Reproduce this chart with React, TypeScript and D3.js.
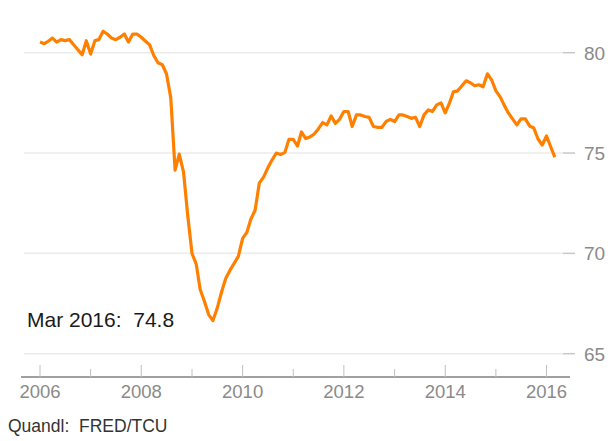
import React from "react";
import * as d3 from "d3";

const startYear = 2006;
const values: number[] = [
  // 2006
  80.53, 80.45, 80.57, 80.73, 80.53, 80.65, 80.6, 80.65, 80.4, 80.15, 79.9, 80.6,
  // 2007
  79.93, 80.6, 80.65, 81.07, 80.93, 80.73, 80.65, 80.77, 80.93, 80.53, 80.93, 80.93,
  // 2008
  80.77, 80.57, 80.4, 79.85, 79.5, 79.4, 78.95, 77.75, 74.15, 74.95, 74.05, 71.9,
  // 2009
  70.0, 69.45, 68.2, 67.6, 66.95, 66.65, 67.25, 68.05, 68.75, 69.15, 69.5, 69.85,
  // 2010
  70.75, 71.05, 71.7, 72.15, 73.5, 73.8, 74.25, 74.65, 75.0, 74.93, 75.02, 75.68,
  // 2011
  75.68, 75.35, 76.05, 75.72, 75.8, 75.95, 76.2, 76.52, 76.4, 76.85, 76.48, 76.68,
  // 2012
  77.07, 77.07, 76.32, 76.9, 76.9, 76.82, 76.78, 76.32, 76.28, 76.28, 76.57, 76.68,
  // 2013
  76.57, 76.9, 76.9, 76.82, 76.73, 76.78, 76.32, 76.9, 77.15, 77.07, 77.4, 77.5,
  // 2014
  77.0, 77.5, 78.05, 78.1, 78.35, 78.6, 78.5, 78.35, 78.4, 78.3, 78.95, 78.65,
  // 2015
  78.1, 77.8, 77.4, 77.0, 76.7, 76.4, 76.7, 76.7, 76.35, 76.25, 75.7, 75.4,
  // 2016
  75.85, 75.3, 74.8,
];
const yTicks = [65, 70, 75, 80];
const xTickYears = [2006, 2007, 2008, 2009, 2010, 2011, 2012, 2013, 2014, 2015, 2016];
const xLabelYears = [2006, 2008, 2010, 2012, 2014, 2016];
const lastLabel = "Mar 2016:  74.8";
const sourceLabel = "Quandl:  FRED/TCU";

const FONT = "'Liberation Sans', Arial, sans-serif";

export default function App() {
  const W = 608;
  const H = 441;
  const data = values.map((v, i) => ({ date: new Date(startYear, i, 1), v }));
  const x = d3
    .scaleTime()
    .domain([new Date(2006, 0, 1), new Date(2016, 0, 1)])
    .range([40, 546.5]);
  const y = d3.scaleLinear().domain([65, 80]).range([353.7, 52.7]);
  const line = d3
    .line<{ date: Date; v: number }>()
    .x((d) => x(d.date))
    .y((d) => y(d.v));

  const axisY = 377;
  return (
    <svg
      width={W}
      height={H}
      style={{ position: "absolute", left: 0, top: 0, background: "#fff" }}
    >
      {yTicks.map((t) => (
        <g key={t}>
          <line x1={24} x2={563} y1={y(t)} y2={y(t)} stroke="#ebebeb" strokeWidth={1.5} />
          <line x1={563} x2={575} y1={y(t)} y2={y(t)} stroke="#c8c8c8" strokeWidth={1.5} />
          <text
            x={584}
            y={y(t) + 7}
            fontFamily={FONT}
            fontSize={19}
            fill="#8a8a8a"
          >
            {t}
          </text>
        </g>
      ))}
      <line x1={21} x2={570} y1={axisY} y2={axisY} stroke="#808080" strokeWidth={1.5} />
      {xTickYears.map((yr) => {
        const xx = x(new Date(yr, 0, 1));
        const len = yr % 2 === 0 ? 12 : 8;
        return (
          <line
            key={yr}
            x1={xx}
            x2={xx}
            y1={axisY}
            y2={axisY - len}
            stroke="#c0c0c0"
            strokeWidth={1}
          />
        );
      })}
      {xLabelYears.map((yr) => (
        <text
          key={yr}
          x={x(new Date(yr, 0, 1))}
          y={398}
          textAnchor="middle"
          fontFamily={FONT}
          fontSize={18.5}
          fill="#8a8a8a"
        >
          {yr}
        </text>
      ))}
      <path
        d={line(data) || ""}
        fill="none"
        stroke="#ff8000"
        strokeWidth={3.2}
        strokeLinejoin="round"
      />
      <text
        x={27}
        y={327}
        fontFamily={FONT}
        fontSize={21}
        fill="#1a1a1a"
        style={{ whiteSpace: "pre" }}
      >
        {lastLabel}
      </text>
      <text
        x={8}
        y={432}
        fontFamily={FONT}
        fontSize={17.5}
        fill="#333"
        style={{ whiteSpace: "pre" }}
      >
        {sourceLabel}
      </text>
    </svg>
  );
}
